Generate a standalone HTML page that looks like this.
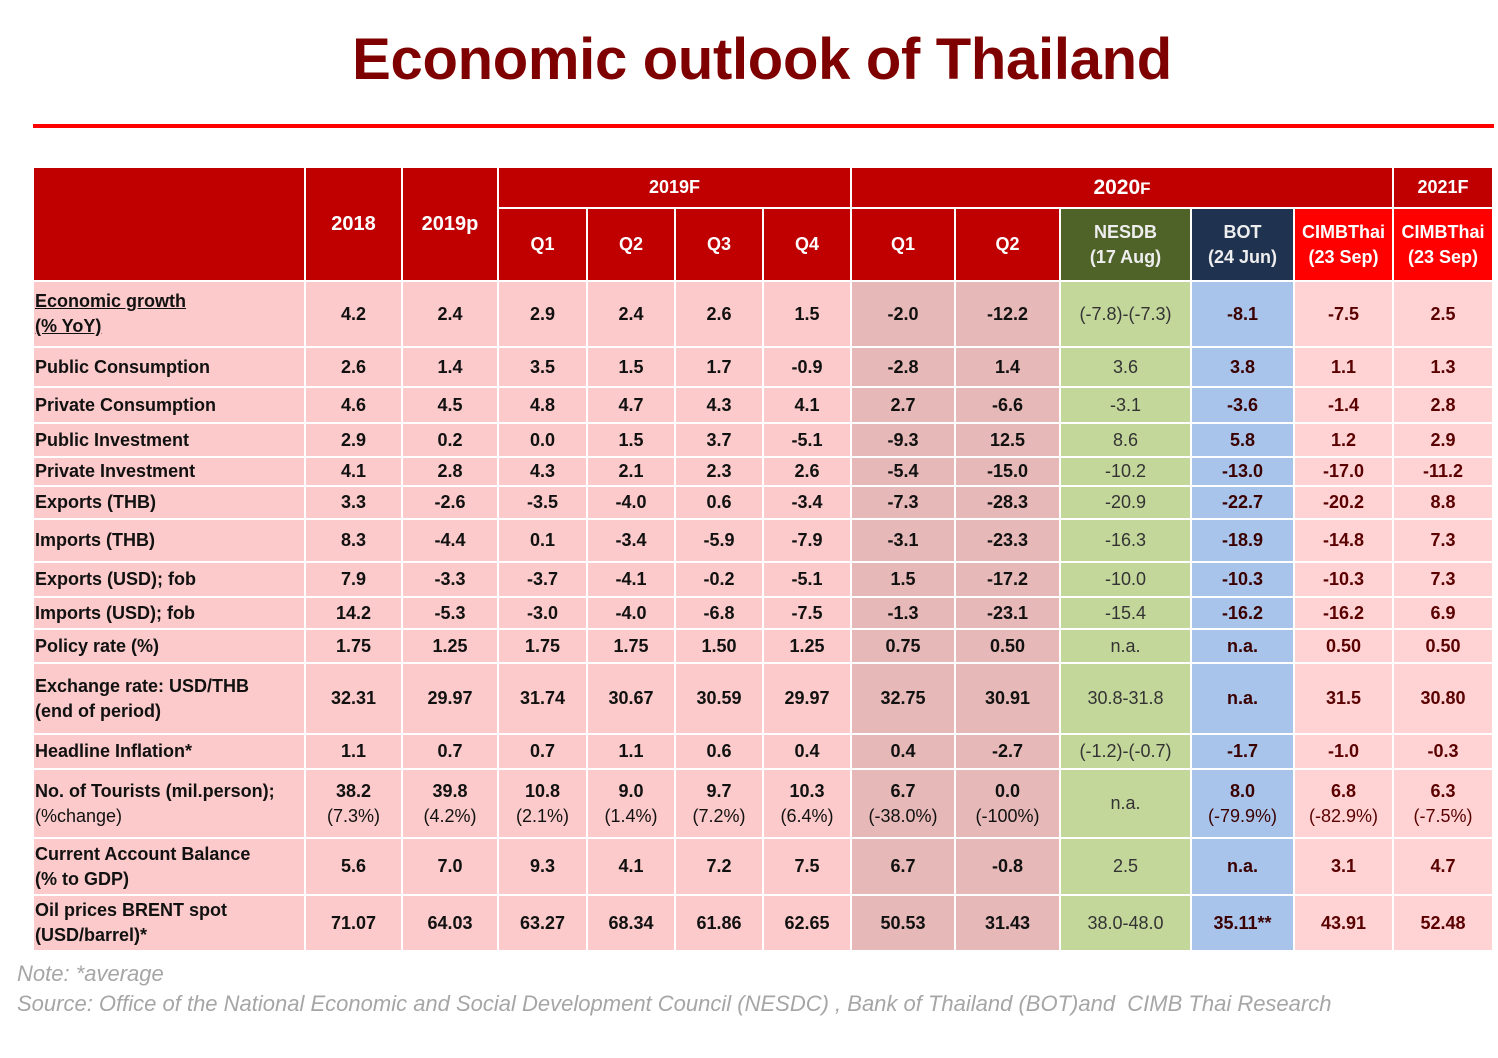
<!DOCTYPE html>
<html><head><meta charset="utf-8"><style>
body{margin:0;width:1498px;height:1058px;background:#fff;font-family:"Liberation Sans",sans-serif;position:relative;overflow:hidden}
h1{position:absolute;top:26px;left:0;width:1524px;text-align:center;margin:0;font-size:58px;color:#7F0000;font-weight:bold;letter-spacing:-0.3px}
.line{position:absolute;left:33px;top:124px;width:1461px;height:4px;background:#F00}
table{position:absolute;left:32px;top:166px;border-collapse:collapse;table-layout:fixed}
td{border:2px solid #fff;padding:0;text-align:center;font-size:18px;font-weight:bold;color:#111;line-height:25px;background:#FCCACA}
td.l{text-align:left;padding-left:1px}
.h{background:#C00000;color:#fff}
.hr{background:#FF0000;color:#fff}
.hn{background:#4F6228;color:#eee}
.hb{background:#1F3350;color:#eee}
.q{background:#E6B8B7}
.n{background:#C4D79B;color:#333;font-weight:normal}
.b{background:#A9C4EB;color:#3a0000}
.c{background:#FFD3D3;color:#5a0000}
.nb{font-weight:normal}
.note{position:absolute;left:17px;font-style:italic;font-size:22px;color:#A6A6A6}
</style></head><body>
<h1>Economic outlook of Thailand</h1>
<div class="line"></div>
<table>
<colgroup><col style="width:272px"><col style="width:97px"><col style="width:96px"><col style="width:89px"><col style="width:88px"><col style="width:88px"><col style="width:88px"><col style="width:104px"><col style="width:105px"><col style="width:131px"><col style="width:103px"><col style="width:99px"><col style="width:100px"></colgroup>
<tr style="height:41px"><td class="h" rowspan="2"></td><td class="h" rowspan="2" style="font-size:20px">2018</td><td class="h" rowspan="2" style="font-size:20px">2019p</td><td class="h" colspan="4">2019F</td><td class="h" colspan="5" style="font-size:21px">2020<span style="font-size:17px">F</span></td><td class="h">2021F</td></tr>
<tr style="height:73px"><td class="h">Q1</td><td class="h">Q2</td><td class="h">Q3</td><td class="h">Q4</td><td class="h">Q1</td><td class="h">Q2</td><td class="hn">NESDB<br>(17 Aug)</td><td class="hb">BOT<br>(24 Jun)</td><td class="hr">CIMBThai<br>(23 Sep)</td><td class="hr">CIMBThai<br>(23 Sep)</td></tr>
<tr style="height:66px"><td class="l"><u>Economic growth<br>(% YoY)</u></td><td>4.2</td><td>2.4</td><td>2.9</td><td>2.4</td><td>2.6</td><td>1.5</td><td class="q">-2.0</td><td class="q">-12.2</td><td class="n">(-7.8)-(-7.3)</td><td class="b">-8.1</td><td class="c">-7.5</td><td class="c">2.5</td></tr>
<tr style="height:40px"><td class="l">Public Consumption</td><td>2.6</td><td>1.4</td><td>3.5</td><td>1.5</td><td>1.7</td><td>-0.9</td><td class="q">-2.8</td><td class="q">1.4</td><td class="n">3.6</td><td class="b">3.8</td><td class="c">1.1</td><td class="c">1.3</td></tr>
<tr style="height:36px"><td class="l">Private Consumption</td><td>4.6</td><td>4.5</td><td>4.8</td><td>4.7</td><td>4.3</td><td>4.1</td><td class="q">2.7</td><td class="q">-6.6</td><td class="n">-3.1</td><td class="b">-3.6</td><td class="c">-1.4</td><td class="c">2.8</td></tr>
<tr style="height:34px"><td class="l">Public Investment</td><td>2.9</td><td>0.2</td><td>0.0</td><td>1.5</td><td>3.7</td><td>-5.1</td><td class="q">-9.3</td><td class="q">12.5</td><td class="n">8.6</td><td class="b">5.8</td><td class="c">1.2</td><td class="c">2.9</td></tr>
<tr style="height:29px"><td class="l">Private Investment</td><td>4.1</td><td>2.8</td><td>4.3</td><td>2.1</td><td>2.3</td><td>2.6</td><td class="q">-5.4</td><td class="q">-15.0</td><td class="n">-10.2</td><td class="b">-13.0</td><td class="c">-17.0</td><td class="c">-11.2</td></tr>
<tr style="height:33px"><td class="l">Exports (THB)</td><td>3.3</td><td>-2.6</td><td>-3.5</td><td>-4.0</td><td>0.6</td><td>-3.4</td><td class="q">-7.3</td><td class="q">-28.3</td><td class="n">-20.9</td><td class="b">-22.7</td><td class="c">-20.2</td><td class="c">8.8</td></tr>
<tr style="height:43px"><td class="l">Imports (THB)</td><td>8.3</td><td>-4.4</td><td>0.1</td><td>-3.4</td><td>-5.9</td><td>-7.9</td><td class="q">-3.1</td><td class="q">-23.3</td><td class="n">-16.3</td><td class="b">-18.9</td><td class="c">-14.8</td><td class="c">7.3</td></tr>
<tr style="height:35px"><td class="l">Exports (USD); fob</td><td>7.9</td><td>-3.3</td><td>-3.7</td><td>-4.1</td><td>-0.2</td><td>-5.1</td><td class="q">1.5</td><td class="q">-17.2</td><td class="n">-10.0</td><td class="b">-10.3</td><td class="c">-10.3</td><td class="c">7.3</td></tr>
<tr style="height:32px"><td class="l">Imports (USD); fob</td><td>14.2</td><td>-5.3</td><td>-3.0</td><td>-4.0</td><td>-6.8</td><td>-7.5</td><td class="q">-1.3</td><td class="q">-23.1</td><td class="n">-15.4</td><td class="b">-16.2</td><td class="c">-16.2</td><td class="c">6.9</td></tr>
<tr style="height:34px"><td class="l">Policy rate (%)</td><td>1.75</td><td>1.25</td><td>1.75</td><td>1.75</td><td>1.50</td><td>1.25</td><td class="q">0.75</td><td class="q">0.50</td><td class="n">n.a.</td><td class="b">n.a.</td><td class="c">0.50</td><td class="c">0.50</td></tr>
<tr style="height:71px"><td class="l">Exchange rate: USD/THB<br>(end of period)</td><td>32.31</td><td>29.97</td><td>31.74</td><td>30.67</td><td>30.59</td><td>29.97</td><td class="q">32.75</td><td class="q">30.91</td><td class="n">30.8-31.8</td><td class="b">n.a.</td><td class="c">31.5</td><td class="c">30.80</td></tr>
<tr style="height:35px"><td class="l">Headline Inflation*</td><td>1.1</td><td>0.7</td><td>0.7</td><td>1.1</td><td>0.6</td><td>0.4</td><td class="q">0.4</td><td class="q">-2.7</td><td class="n">(-1.2)-(-0.7)</td><td class="b">-1.7</td><td class="c">-1.0</td><td class="c">-0.3</td></tr>
<tr style="height:69px"><td class="l">No. of Tourists (mil.person);<br><span class="nb">(%change)</span></td><td>38.2<br><span class="nb">(7.3%)</span></td><td>39.8<br><span class="nb">(4.2%)</span></td><td>10.8<br><span class="nb">(2.1%)</span></td><td>9.0<br><span class="nb">(1.4%)</span></td><td>9.7<br><span class="nb">(7.2%)</span></td><td>10.3<br><span class="nb">(6.4%)</span></td><td class="q">6.7<br><span class="nb">(-38.0%)</span></td><td class="q">0.0<br><span class="nb">(-100%)</span></td><td class="n">n.a.</td><td class="b">8.0<br><span class="nb">(-79.9%)</span></td><td class="c">6.8<br><span class="nb">(-82.9%)</span></td><td class="c">6.3<br><span class="nb">(-7.5%)</span></td></tr>
<tr style="height:57px"><td class="l">Current Account Balance<br>(% to GDP)</td><td>5.6</td><td>7.0</td><td>9.3</td><td>4.1</td><td>7.2</td><td>7.5</td><td class="q">6.7</td><td class="q">-0.8</td><td class="n">2.5</td><td class="b">n.a.</td><td class="c">3.1</td><td class="c">4.7</td></tr>
<tr style="height:56px"><td class="l">Oil prices BRENT spot<br>(USD/barrel)*</td><td>71.07</td><td>64.03</td><td>63.27</td><td>68.34</td><td>61.86</td><td>62.65</td><td class="q">50.53</td><td class="q">31.43</td><td class="n">38.0-48.0</td><td class="b">35.11**</td><td class="c">43.91</td><td class="c">52.48</td></tr>
</table>
<div class="note" style="top:961px">Note: *average</div>
<div class="note" style="top:991px">Source: Office of the National Economic and Social Development Council (NESDC) , Bank of Thailand (BOT)and&nbsp; CIMB Thai Research</div>
</body></html>
